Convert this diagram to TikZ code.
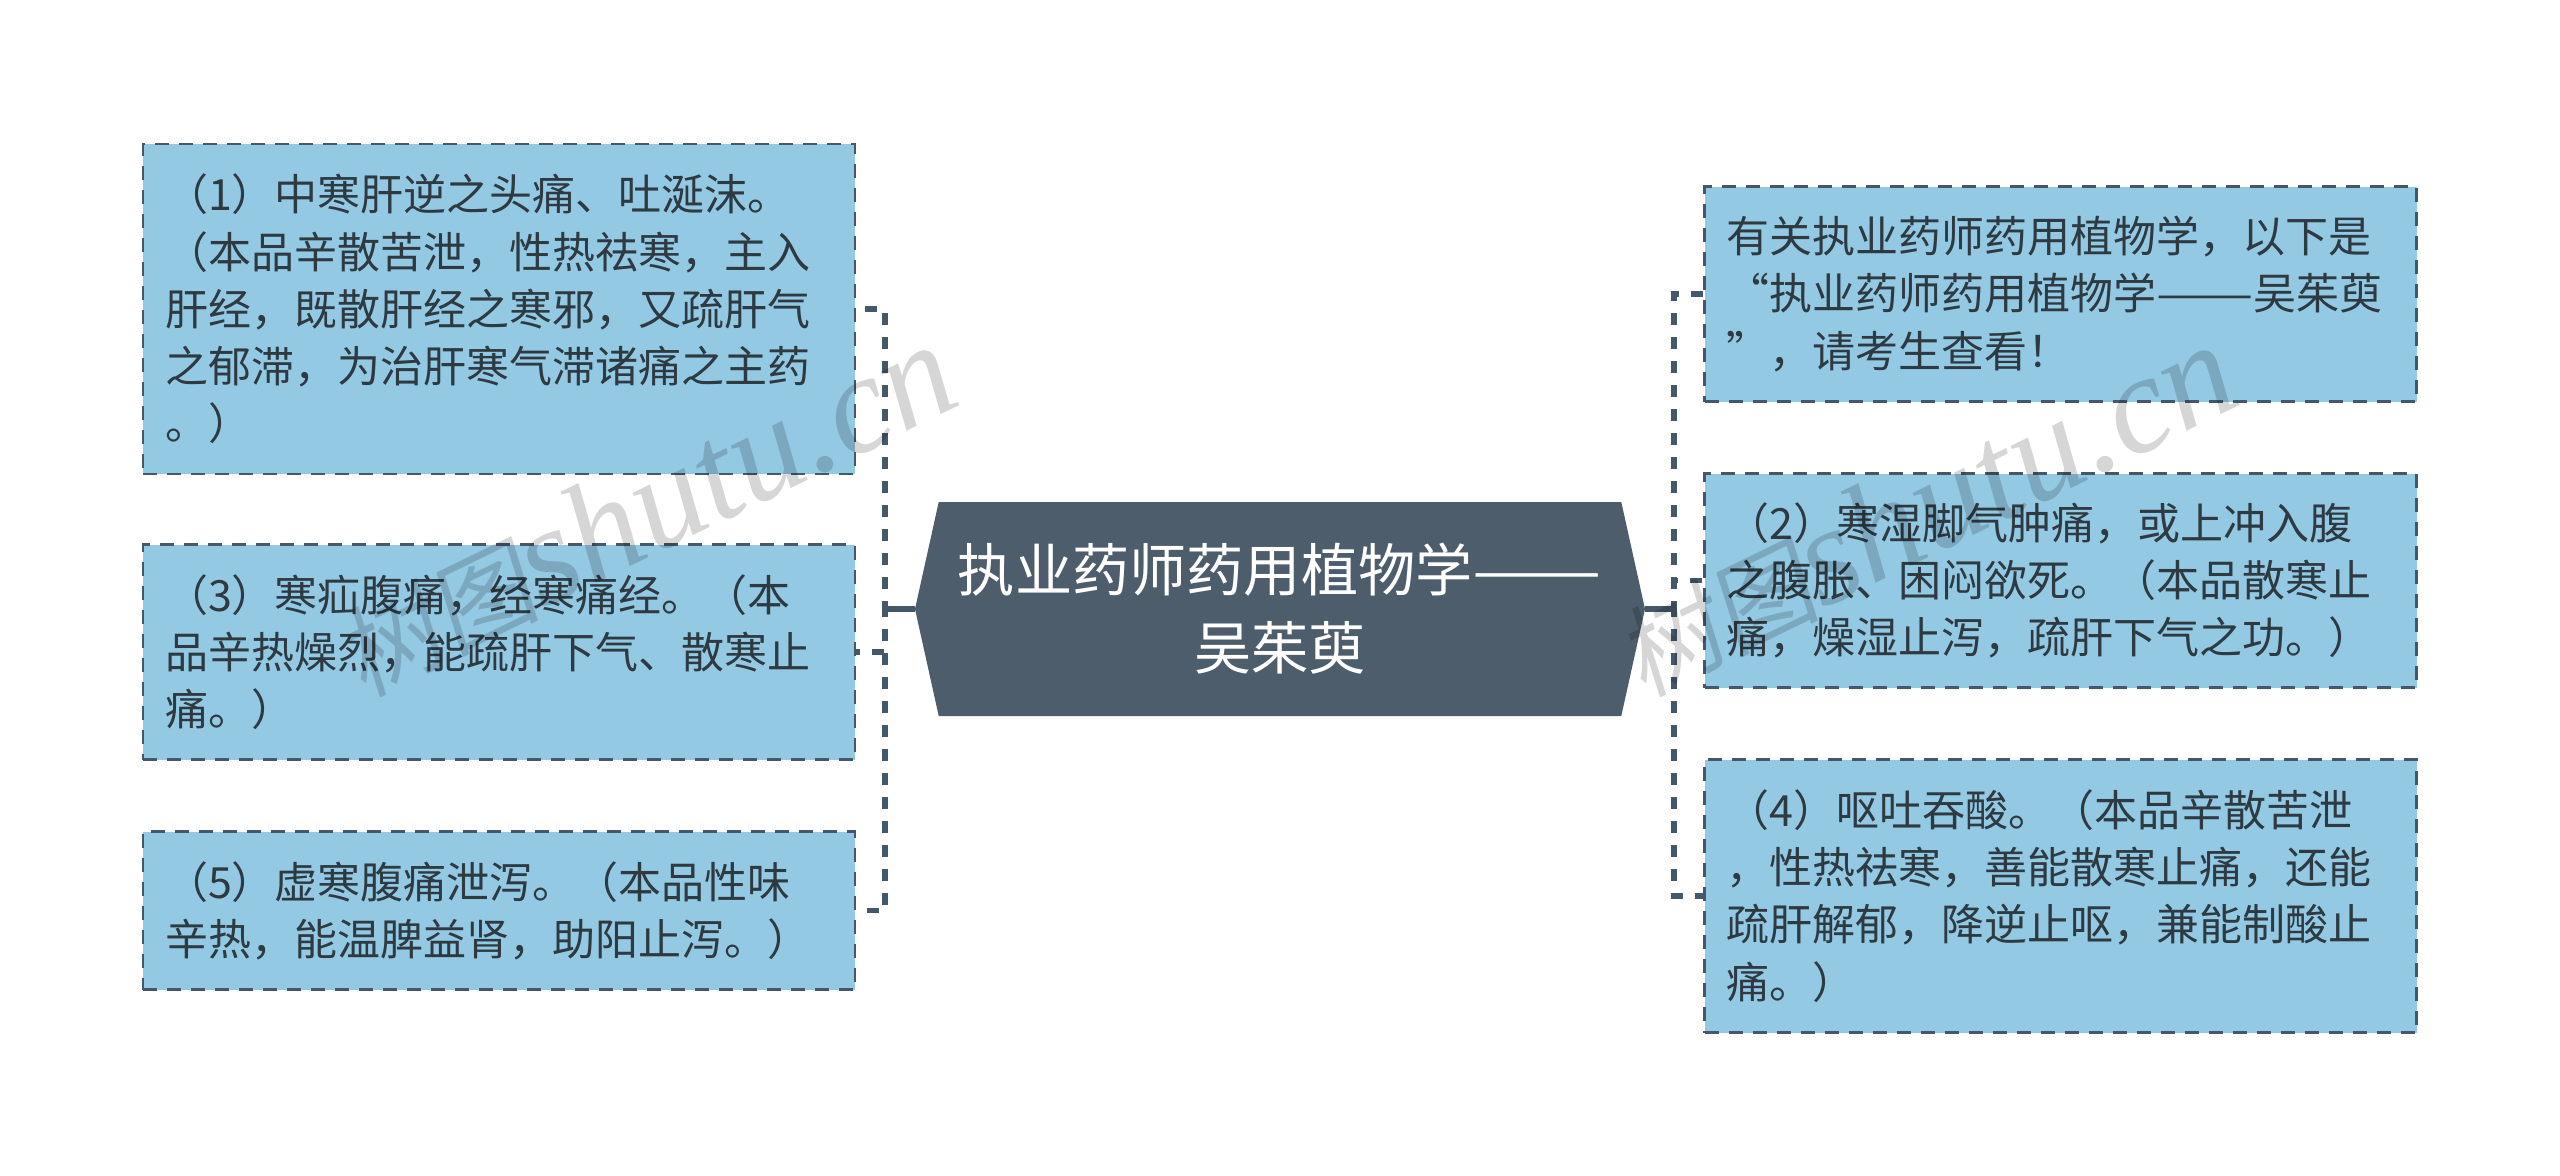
\documentclass[tikz,border=0pt]{standalone}
\usepackage{fontspec}
\usepackage{xcolor}
\usepackage{graphicx}
\usetikzlibrary{shapes.symbols}
\setmainfont{Noto Sans CJK SC}
\newfontfamily\markcjk[FakeSlant=0.15]{Noto Sans CJK SC}
\newfontfamily\markserif{Liberation Serif}[ItalicFont=* Italic]
\definecolor{BoxBlue}{HTML}{94C9E4}
\definecolor{SlateLine}{HTML}{44586A}
\definecolor{SlateRoot}{HTML}{4D5D6C}
\definecolor{InkDark}{HTML}{2D3A42}
\newcommand{\longdash}{\scalebox{1.35}[1]{——}}
\tikzset{
  leaf/.style={draw=SlateLine, line width=1.4pt, dash pattern=on 7pt off 5pt, fill=BoxBlue, text=InkDark,
    minimum width=356pt, text width=334pt, inner xsep=11pt, inner ysep=0pt, align=left,
    font=\fontsize{21.5}{28.6}\selectfont},
  hub/.style={signal, signal to=west and east, signal pointer angle=155, fill=SlateRoot, text=white,
    minimum width=365pt, minimum height=107pt, inner sep=0pt, align=center,
    font=\fontsize{28.6}{39}\selectfont},
  stem/.style={SlateLine, line width=2.75pt},
  link/.style={SlateLine, line width=2.75pt, dash pattern=on 6pt off 6pt, dash phase=2pt},
  stamp/.style={text=black, text opacity=0.16, rotate=26, font=\fontsize{70}{70}\selectfont}
}

\begin{document}
\begin{tikzpicture}[x=0.5pt, y=-0.5pt]
\useasboundingbox (0,0) rectangle (2560,1175);

% Junctions on the two buses
\coordinate (busL) at (885,609);
\coordinate (busR) at (1674,609);

% Centre
\node[hub] (root) at (1280,609) {执业药师药用植物学\longdash\\吴茱萸};

% Left side
\node[leaf, minimum height=165pt] (cold) at (499,309) {（1）中寒肝逆之头痛、吐涎沫。\\（本品辛散苦泄，性热祛寒，主入\\肝经，既散肝经之寒邪，又疏肝气\\之郁滞，为治肝寒气滞诸痛之主药\\。）};
\node[leaf, minimum height=107.5pt] (hernia) at (499,652) {（3）寒疝腹痛，经寒痛经。（本\\品辛热燥烈，能疏肝下气、散寒止\\痛。）};
\node[leaf, minimum height=79pt] (diarrhea) at (499,910.5) {（5）虚寒腹痛泄泻。（本品性味\\辛热，能温脾益肾，助阳止泻。）};

% Right side
\node[leaf, minimum height=107.5pt] (intro) at (2060.5,294) {有关执业药师药用植物学，以下是\\“执业药师药用植物学\longdash 吴茱萸\\”，请考生查看！};
\node[leaf, minimum height=107pt] (damp) at (2060.5,580.5) {（2）寒湿脚气肿痛，或上冲入腹\\之腹胀、困闷欲死。（本品散寒止\\痛，燥湿止泻，疏肝下气之功。）};
\node[leaf, minimum height=136.5pt] (vomit) at (2060.5,896) {（4）呕吐吞酸。（本品辛散苦泄\\，性热祛寒，善能散寒止痛，还能\\疏肝解郁，降逆止呕，兼能制酸止\\痛。）};

% Stems from the centre
\draw[stem] (root.west) -- (busL);
\draw[stem] (root.east) -- (busR);

% Dashed links
\draw[link] (busL) |- (cold.east);
\draw[link] (busL) |- (hernia.east);
\draw[link] (busL) |- (diarrhea.east);
\draw[link] (busR) |- (intro.west);
\draw[link] (busR) |- (damp.west);
\draw[link] (busR) |- (vomit.west);

% Watermarks
\node[stamp] (stampL) at (645,510) {{\markcjk\fontsize{50}{50}\selectfont 树图}{\markserif\itshape shutu.cn}};
\node[stamp] (stampR) at (1925,510) {{\markcjk\fontsize{50}{50}\selectfont 树图}{\markserif\itshape shutu.cn}};
\end{tikzpicture}
\end{document}
